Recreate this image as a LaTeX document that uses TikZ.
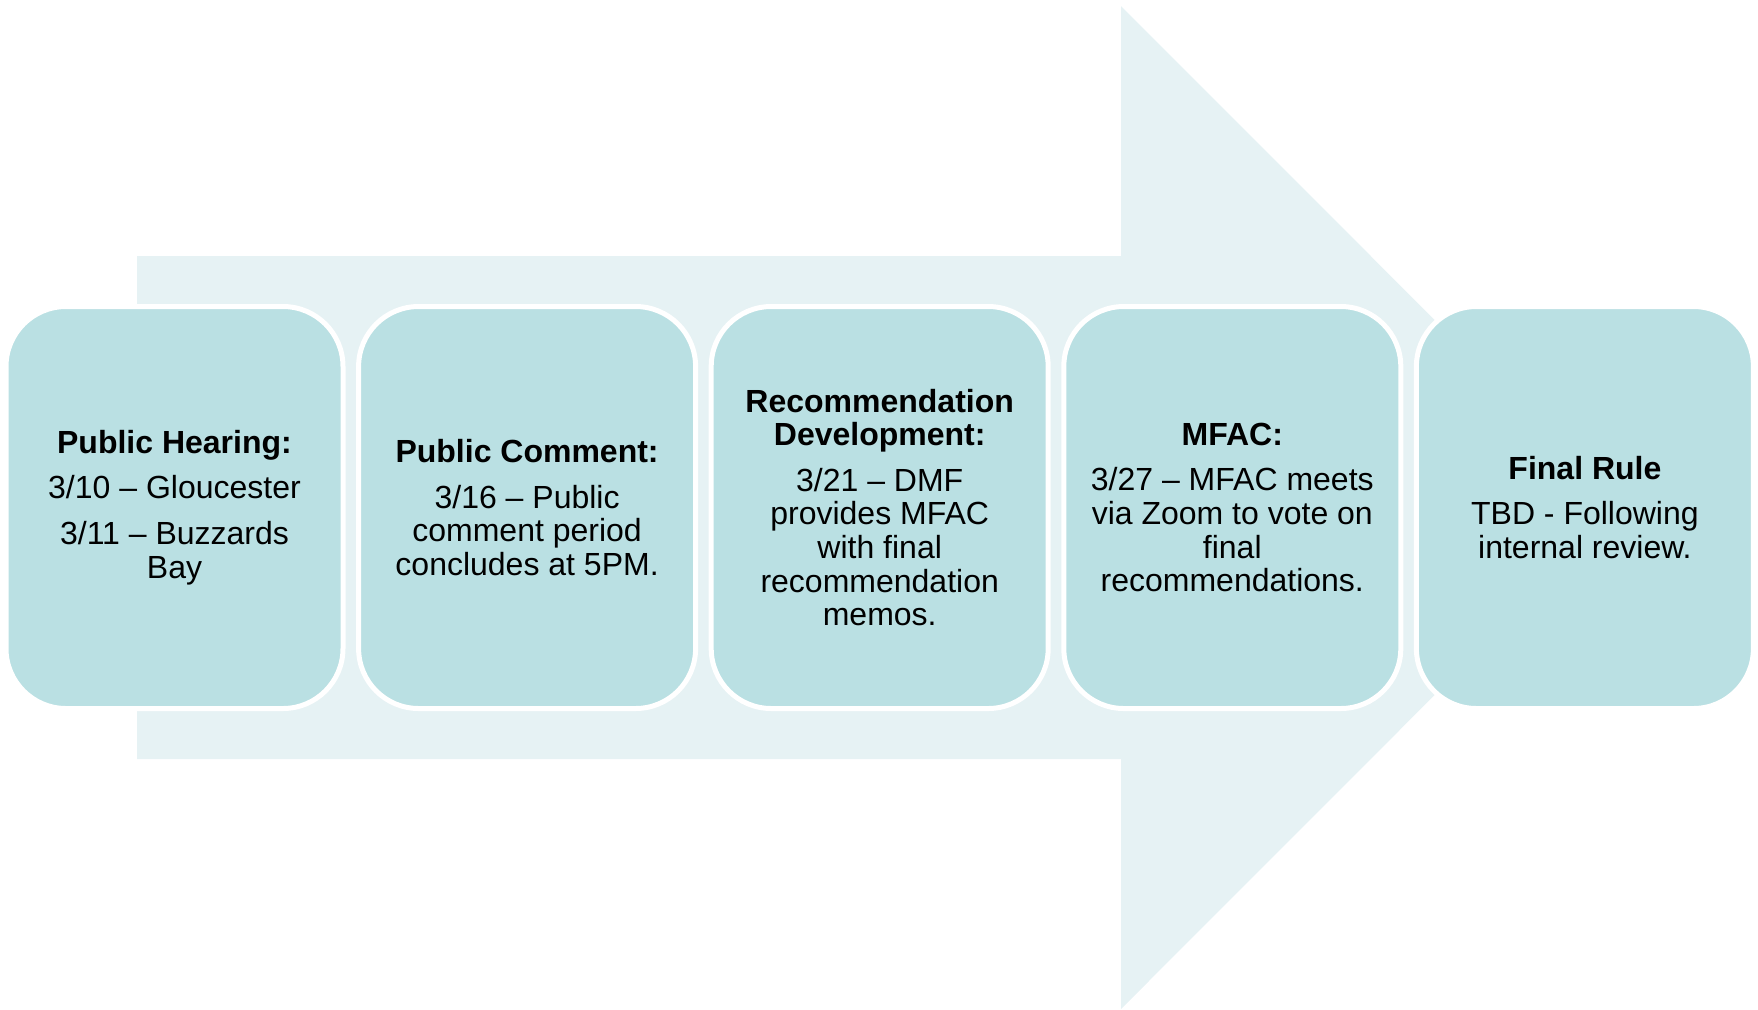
\documentclass[tikz,border=0pt]{standalone}
\usepackage{fontspec}
\setmainfont{Liberation Sans}
\usetikzlibrary{positioning}
\pgfdeclarelayer{background1}
\pgfsetlayers{background1,main}

\begin{document}
\begin{tikzpicture}[x=0.5pt,y=-0.5pt,
	stagebox/.style={draw=white, line width=2.5pt, fill=stagecolor, rounded corners=30pt,
		minimum width=168.5pt, minimum height=201pt, inner sep=0pt, outer sep=0pt,
		align=center, text=black, font=\fontsize{16}{16.8}\selectfont}]

	\definecolor{stagecolor}{RGB}{186,224,227}
	\definecolor{arrowcolor}{RGB}{230,242,244}

	\useasboundingbox (0,0) rectangle (1758,1009);

	\node(hearing) [stagebox] at (174.5,507.5) {\textbf{Public Hearing:}\\[6pt]3/10 – Gloucester\\[6pt]3/11 – Buzzards\\Bay};
	\node(comment) [stagebox, right=7.8pt of hearing] {\textbf{Public Comment:}\\[6pt]3/16 – Public\\comment period\\concludes at 5PM.};
	\node(develop) [stagebox, right=7.8pt of comment] {\textbf{Recommendation}\\\textbf{Development:}\\[6pt]3/21 – DMF\\provides MFAC\\with final\\recommendation\\memos.};
	\node(mfac) [stagebox, right=7.8pt of develop] {\textbf{MFAC:}\\[6pt]3/27 – MFAC meets\\via Zoom to vote on\\final\\recommendations.};
	\node(rule) [stagebox, right=7.8pt of mfac] {\textbf{Final Rule}\\[6pt]TBD - Following\\internal review.};

	\begin{pgfonlayer}{background1}
		\fill[arrowcolor] (137,256) -- (1121,256) -- (1121,6) -- (1622,507.5) -- (1121,1009) -- (1121,759) -- (137,759) -- cycle;
	\end{pgfonlayer}

\end{tikzpicture}
\end{document}
